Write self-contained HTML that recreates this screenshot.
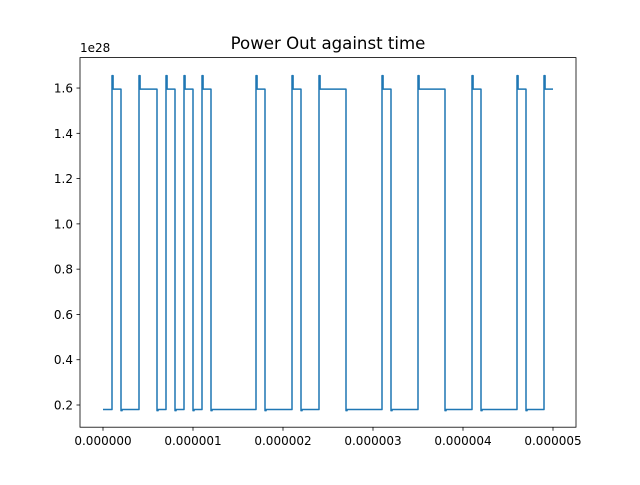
<!DOCTYPE html>
<html><head><meta charset="utf-8"><style>
body{margin:0;background:#fff;}
svg text{font-family:"DejaVu Sans","Liberation Sans",sans-serif;}
</style></head><body>
<svg id="chart" width="640" height="480" xmlns="http://www.w3.org/2000/svg">
<rect width="640" height="480" fill="#fff"/>
<text x="328" y="49" font-size="16.6" text-anchor="middle">Power Out against time</text>
<text x="80" y="52" font-size="12">1e28</text>
<g id="ticks"></g>
<path id="line" fill="none" stroke="#1f77b4" stroke-width="1.5" stroke-linejoin="round"/>
<rect x="80" y="57.6" width="496" height="369.6" fill="none" stroke="#000" stroke-width="0.8"/>
</svg>
<script>
const riseTimes=[0.1,0.4,0.7,0.9,1.1,1.7,2.1,2.4,3.1,3.5,4.1,4.6,4.9];
const fallTimes=[0.2,0.6,0.8,1.0,1.2,1.8,2.2,2.7,3.2,3.8,4.2,4.7];
const lowLevel=0.18, highLevel=1.595, spikeLevel=1.655, dipLevel=0.175;
const endTime=5.0, pulseDt=0.012;
const xTicks=[0,1,2,3,4,5];
const xTickLabels=["0.000000","0.000001","0.000002","0.000003","0.000004","0.000005"];
const yTicks=[0.2,0.4,0.6,0.8,1.0,1.2,1.4,1.6];
const yTickLabels=["0.2","0.4","0.6","0.8","1.0","1.2","1.4","1.6"];
const X=t=>103+(t-0)*90;
const Y=v=>405-(v-0.2)*226.4;
const ns="http://www.w3.org/2000/svg";
const g=document.getElementById('ticks');
xTicks.forEach((t,i)=>{
 const l=document.createElementNS(ns,'line');
 
 
 l.setAttribute('x1',X(t));l.setAttribute('x2',X(t));l.setAttribute('y1',427.2);l.setAttribute('y2',430.7);l.setAttribute('stroke','#000');l.setAttribute('stroke-width','0.8');g.appendChild(l);
 const tx=document.createElementNS(ns,'text');
 
 
 tx.setAttribute('x',X(t));tx.setAttribute('y',445);tx.setAttribute('font-size','12');tx.setAttribute('text-anchor','middle');tx.textContent=xTickLabels[i];g.appendChild(tx);
});
yTicks.forEach((v,i)=>{
 const l=document.createElementNS(ns,'line');
 
 
 l.setAttribute('x1',76.5);l.setAttribute('x2',80);l.setAttribute('y1',Y(v));l.setAttribute('y2',Y(v));l.setAttribute('stroke','#000');l.setAttribute('stroke-width','0.8');g.appendChild(l);
 const tx=document.createElementNS(ns,'text');
 
 
 tx.setAttribute('x',73);tx.setAttribute('y',Y(v)+4.5);tx.setAttribute('font-size','12');tx.setAttribute('text-anchor','end');tx.textContent=yTickLabels[i];g.appendChild(tx);
});
let pts=[[0,lowLevel]];
const ev=[];
riseTimes.forEach(t=>ev.push([t,'r']));
fallTimes.forEach(t=>ev.push([t,'f']));
ev.sort((a,b)=>a[0]-b[0]);
ev.forEach(([t,k])=>{
 if(k==='r'){pts.push([t,lowLevel],[t,spikeLevel],[t+pulseDt,spikeLevel],[t+pulseDt,highLevel]);}
 else{pts.push([t,highLevel],[t,dipLevel],[t+pulseDt,dipLevel],[t+pulseDt,lowLevel]);}
});
pts.push([endTime,highLevel]);
document.getElementById('line').setAttribute('d',pts.map((p,i)=>(i?'L':'M')+X(p[0]).toFixed(2)+','+Y(p[1]).toFixed(2)).join(' '));
</script>
</body></html>
